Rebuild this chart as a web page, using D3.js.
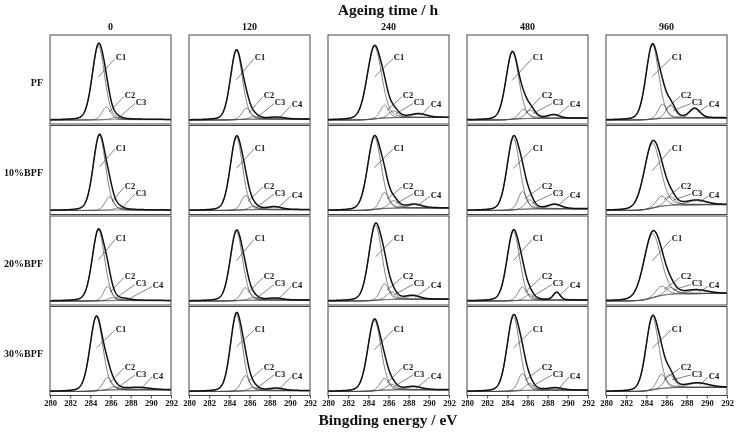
<!DOCTYPE html>
<html><head><meta charset="utf-8">
<script src="https://cdn.jsdelivr.net/npm/d3@7"></script>
<style>
body{margin:0;background:#fff}
svg{display:block;will-change:transform}
text{font-family:"Liberation Serif","Times New Roman",serif;font-weight:bold;fill:#111;-webkit-font-smoothing:antialiased}
</style>
</head><body>
<svg id="c" width="738" height="432"></svg>
<script>
// ---- data ----
const timeLabels = ["0","120","240","480","960"];
const sampleLabels = ["PF","10%BPF","20%BPF","30%BPF"];
const componentNames = ["C1","C2","C3","C4"];
const energyTicks = [280,282,284,286,288,290,292];
// each panel: peaks [centre eV, height, FWHM eV] for C1..C4, bg = Shirley step height
const peaksPF = [
  {peaks:[[284.8,0.88,1.45],[285.6,0.15,1.0],[286.5,0.025,1.0]], bg:0.005},
  {peaks:[[284.7,0.82,1.4],[285.7,0.13,1.0],[286.5,0.035,1.0],[288.7,0.02,1.8]], bg:0.01},
  {peaks:[[284.6,0.86,1.7],[285.6,0.15,1.0],[286.5,0.08,1.1],[289.0,0.04,1.8]], bg:0.03},
  {peaks:[[284.5,0.80,1.5],[285.6,0.11,1.0],[286.3,0.10,1.1],[288.6,0.04,1.3]], bg:0.02},
  {peaks:[[284.6,0.88,1.5],[285.6,0.17,1.0],[286.4,0.15,1.1],[288.8,0.11,1.2]], bg:0.025}
];
const peaks10BPF = [
  {peaks:[[284.9,0.89,1.45],[285.9,0.16,1.0],[286.8,0.025,1.0]], bg:0.005},
  {peaks:[[284.7,0.86,1.45],[285.6,0.17,1.0],[286.4,0.04,1.0],[288.5,0.03,1.6]], bg:0.01},
  {peaks:[[284.6,0.86,1.6],[285.6,0.19,1.0],[286.5,0.09,1.1],[288.6,0.04,1.6]], bg:0.03},
  {peaks:[[284.6,0.85,1.5],[285.5,0.21,1.0],[286.2,0.11,1.0],[288.7,0.05,1.5]], bg:0.02},
  {peaks:[[284.6,0.77,1.9],[285.5,0.12,1.2],[286.4,0.10,1.2],[289.0,0.05,2.2]], bg:0.07}
];
const peaks20BPF = [
  {peaks:[[284.8,0.84,1.45],[285.7,0.17,0.9],[286.2,0.035,1.0],[287.4,0.015,1.2]], bg:0.005},
  {peaks:[[284.7,0.82,1.45],[285.6,0.15,1.0],[286.4,0.035,1.0],[288.6,0.02,1.6]], bg:0.01},
  {peaks:[[284.7,0.89,1.55],[285.6,0.19,1.0],[286.3,0.09,1.1],[288.4,0.04,1.6]], bg:0.02},
  {peaks:[[284.6,0.82,1.5],[285.5,0.16,1.0],[286.2,0.07,1.0],[288.9,0.09,0.8]], bg:0.01},
  {peaks:[[284.6,0.76,2.0],[285.5,0.11,1.3],[286.4,0.08,1.2],[289.0,0.04,2.5]], bg:0.09}
];
const peaks30BPF = [
  {peaks:[[284.6,0.88,1.5],[285.7,0.15,1.0],[286.4,0.04,1.0],[288.8,0.025,2.5]], bg:0.02},
  {peaks:[[284.7,0.91,1.4],[285.6,0.18,1.0],[286.4,0.04,1.0],[288.7,0.025,1.6]], bg:0.01},
  {peaks:[[284.6,0.84,1.55],[285.6,0.14,1.0],[286.3,0.07,1.1],[288.5,0.035,1.8]], bg:0.02},
  {peaks:[[284.6,0.88,1.5],[285.5,0.20,1.0],[286.2,0.08,1.0],[288.8,0.025,1.6]], bg:0.015},
  {peaks:[[284.6,0.86,1.5],[285.5,0.17,1.0],[286.3,0.16,1.1],[289.1,0.05,2.5]], bg:0.05}
];
const rows = [peaksPF, peaks10BPF, peaks20BPF, peaks30BPF];

// ---- layout ----
const colLeft = 50, colPitch = 139, panelW = 121;
const rowTop = 35, rowPitch = 90.5, panelH = 89;
const labelPos = [[71,22],[80,60],[91,67],[108,69]];

const svg = d3.select("#c");
const x = d3.scaleLinear().domain([280,292]).range([0,panelW]);
const y = d3.scaleLinear().domain([0,1]).range([panelH-4, 1]);
const grid = d3.range(280, 292.0001, 0.02);

function pv(e, p){
  const d = (e - p[0]) / p[2];
  const g = Math.exp(-4*Math.LN2*d*d);
  const l = 1/(1+4*d*d);
  return p[1]*(0.8*g + 0.2*l);
}

svg.append("rect").attr("width",738).attr("height",432).attr("fill","#fff");
svg.append("clipPath").attr("id","clip")
  .append("rect").attr("x",0).attr("y",0).attr("width",panelW).attr("height",panelH);

const line = d3.line().x(d=>x(d[0])).y(d=>y(d[1]));

rows.forEach((row, r) => {
  row.forEach((panel, c) => {
    const g = svg.append("g").attr("transform",`translate(${colLeft+c*colPitch},${rowTop+r*rowPitch})`);
    const comps = panel.peaks.map(p => grid.map(e => pv(e,p)));
    const total = grid.map((e,i) => d3.sum(comps, cc => cc[i]));
    let cum = 0; const cumArr = total.map(v => (cum += v));
    const bg = cumArr.map(v => panel.bg * v / cum);
    const plot = g.append("g").attr("clip-path","url(#clip)");
    plot.append("path").datum(grid.map((e,i)=>[e,bg[i]]))
      .attr("d",line).attr("fill","none").attr("stroke","#555").attr("stroke-width",0.7);
    comps.forEach(cc => {
      plot.append("path").datum(grid.map((e,i)=>[e,bg[i]+cc[i]]))
        .attr("d",line).attr("fill","none").attr("stroke","#444").attr("stroke-width",0.7);
    });
    plot.append("path").datum(grid.map((e,i)=>[e,bg[i]+total[i]]))
      .attr("d",line).attr("fill","none").attr("stroke","#111").attr("stroke-width",1.5);
    panel.peaks.forEach((p,k) => {
      const [lx,ly] = labelPos[k];
      const ex = p[0] + (k===0 ? 0 : 0.25);
      const idx = Math.round((ex-280)/0.02);
      const sy = y(bg[idx] + (k===0 ? 0.58 : 0.6) * p[1]);
      g.append("line").attr("x1",x(ex)).attr("y1",sy).attr("x2",lx-6).attr("y2",ly+1.5)
        .attr("stroke","#333").attr("stroke-width",0.6);
      g.append("text").attr("x",lx).attr("y",ly+3).attr("text-anchor","middle")
        .attr("font-size",8.5).text(componentNames[k]);
    });
    g.append("rect").attr("x",0).attr("y",0).attr("width",panelW).attr("height",panelH)
      .attr("fill","none").attr("stroke","#444").attr("stroke-width",1);
    if (r === rows.length-1) {
      const ax = g.append("g").attr("transform",`translate(0,${panelH})`)
        .call(d3.axisBottom(x).tickValues(energyTicks).tickSize(3).tickPadding(1).tickFormat(d3.format("d")));
      ax.select(".domain").remove();
      ax.selectAll("line").attr("stroke","#444");
      ax.selectAll("text").attr("font-size",8.5).attr("font-family",null).style("fill","#111");
    }
  });
});

timeLabels.forEach((t,c) => {
  svg.append("text").attr("x",colLeft+c*colPitch+panelW/2).attr("y",30)
    .attr("text-anchor","middle").attr("font-size",10).text(t);
});
sampleLabels.forEach((t,r) => {
  svg.append("text").attr("x",43).attr("y",rowTop+r*rowPitch+panelH/2+6)
    .attr("text-anchor","end").attr("font-size",10).text(t);
});
svg.append("text").attr("x",388).attr("y",15).attr("text-anchor","middle").attr("font-size",15.5).text("Ageing time / h");
svg.append("text").attr("x",388).attr("y",425).attr("text-anchor","middle").attr("font-size",15.5).text("Bingding energy / eV");
</script>
</body></html>
